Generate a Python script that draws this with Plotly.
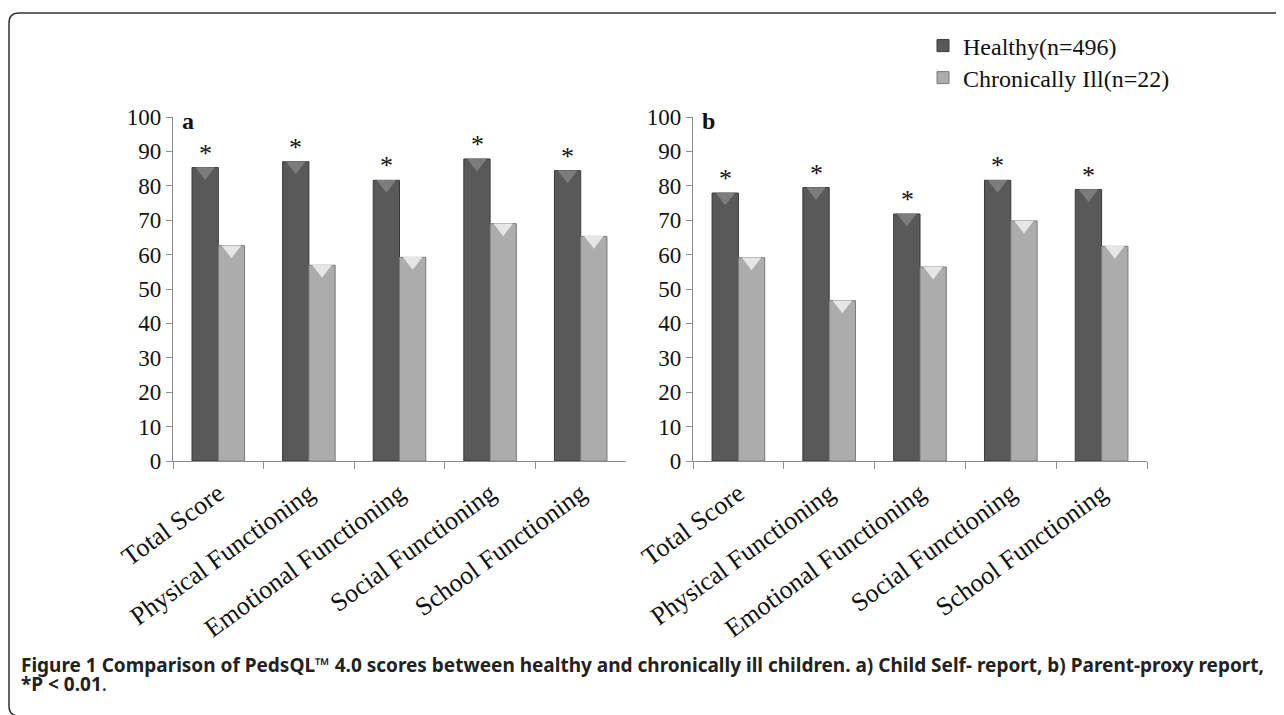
import plotly.graph_objects as go

# ---------------- data ----------------
categories = ["Total Score", "Physical Functioning", "Emotional Functioning",
              "Social Functioning", "School Functioning"]
healthy_a = [85.3, 87.0, 81.6, 87.8, 84.4]
ill_a = [62.6, 56.9, 59.2, 69.0, 65.3]
healthy_b = [77.9, 79.5, 71.8, 81.6, 78.9]
ill_b = [59.1, 46.6, 56.4, 69.8, 62.4]
series_names = ["Healthy(n=496)", "Chronically Ill(n=22)"]
panel_labels = ["a", "b"]
y_tick_vals = list(range(0, 101, 10))
significance_mark = "*"
caption_line1 = ("<b>Figure 1 Comparison of PedsQL™ 4.0 scores between healthy and chronically ill "
                 "children. a) Child Self- report, b) Parent-proxy report,</b>")
caption_line2 = "<b>*P &lt; 0.01</b>."

# ---------------- layout helpers ----------------
OFF = 8  # page body margin
W, H = 1276, 707
def px(x):
    return (x - OFF) / W
def py(y):
    return 1 - (y - OFF) / H

SERIF = "Liberation Serif"
dark = "#595959"
dark_line = "#383838"
dark_bevel = "#7c7c7c"
light = "#acacac"
light_line = "#7a7a7a"
light_bevel = "#e6e6e6"
axis_col = "#8c8c8c"
BARGAP = 0.42

fig = go.Figure()
panels = [(healthy_a, ill_a, "x", "y"), (healthy_b, ill_b, "x2", "y2")]
for i, (h, il, xa, ya) in enumerate(panels):
    fig.add_trace(go.Bar(x=categories, y=h, name=series_names[0], xaxis=xa, yaxis=ya,
                         offsetgroup="h",
                         marker=dict(color=dark, line=dict(color=dark_line, width=1)),
                         showlegend=(i == 0), legend="legend"))
    fig.add_trace(go.Bar(x=categories, y=il, name=series_names[1], xaxis=xa, yaxis=ya,
                         offsetgroup="i",
                         marker=dict(color=light, line=dict(color=light_line, width=1)),
                         showlegend=(i == 0), legend="legend2"))
    # bevel triangles at the top of each bar
    fig.add_trace(go.Scatter(x=categories, y=h, xaxis=xa, yaxis=ya, mode="markers",
                             offsetgroup="h", showlegend=False, hoverinfo="skip",
                             marker=dict(symbol="triangle-down", size=17, color=dark_bevel,
                                         standoff=4, line=dict(width=0))))
    fig.add_trace(go.Scatter(x=categories, y=il, xaxis=xa, yaxis=ya, mode="markers",
                             offsetgroup="i", showlegend=False, hoverinfo="skip",
                             marker=dict(symbol="triangle-down", size=17, color=light_bevel,
                                         standoff=4, line=dict(width=0))))

annotations = []
for (h, il, xa, ya) in panels:
    for c, v in zip(categories, h):
        annotations.append(dict(x=c, y=v, xref=xa, yref=ya, text=significance_mark,
                                showarrow=False, xanchor="center", yanchor="bottom",
                                xshift=-13, yshift=-2,
                                font=dict(family=SERIF, size=26, color="#111")))

# panel letters
for lbl, xpos in zip(panel_labels, [180, 700]):
    annotations.append(dict(x=px(xpos), y=py(121), xref="paper", yref="paper",
                            text=f"<b>{lbl}</b>", showarrow=False,
                            xanchor="left", yanchor="middle",
                            font=dict(family=SERIF, size=24, color="#111")))
# caption
annotations.append(dict(x=px(19), y=py(665), xref="paper", yref="paper", text=caption_line1,
                        showarrow=False, xanchor="left", yanchor="middle",
                        font=dict(family="Noto Sans", size=19, color="#222")))
annotations.append(dict(x=px(19), y=py(684), xref="paper", yref="paper", text=caption_line2,
                        showarrow=False, xanchor="left", yanchor="middle",
                        font=dict(family="Noto Sans", size=19, color="#222")))

xaxis_common = dict(type="category", showline=True, linecolor=axis_col, linewidth=1.3,
                    ticks="outside", tickson="boundaries", ticklen=7, tickcolor=axis_col,
                    tickangle=-36, showgrid=False, zeroline=False, automargin=False,
                    ticklabelstandoff=6,
                    tickfont=dict(family=SERIF, size=26, color="#111"))
yaxis_common = dict(range=[0, 100], tickvals=y_tick_vals, showline=True, linecolor=axis_col,
                    linewidth=1.3, ticks="outside", ticklen=6, tickcolor=axis_col,
                    showgrid=False, zeroline=False, automargin=False,
                    tickfont=dict(family=SERIF, size=23, color="#111"))

# outer frame (open on right/bottom edges of page)
r = 10
x0, y0, x1, y1 = 9, 13, 1300, 716
frame_path = (f"M {px(x1)},{py(y0)} L {px(x0 + r)},{py(y0)} "
              f"Q {px(x0)},{py(y0)} {px(x0)},{py(y0 + r)} "
              f"L {px(x0)},{py(y1 - r)} Q {px(x0)},{py(y1)} {px(x0 + r)},{py(y1)}")

legend_common = dict(xanchor="left", yanchor="middle", bgcolor="rgba(0,0,0,0)",
                     font=dict(family=SERIF, size=24, color="#111"), itemwidth=30)

fig.update_layout(
    template="none",
    width=W, height=H, margin=dict(l=0, r=0, t=0, b=0, autoexpand=False),
    paper_bgcolor="white", plot_bgcolor="white",
    barmode="group", bargap=BARGAP, bargroupgap=0.0,
    scattermode="group", scattergap=BARGAP,
    xaxis=dict(domain=[px(173), px(626)], anchor="y", **xaxis_common),
    yaxis=dict(domain=[py(461), py(117)], anchor="x", **yaxis_common),
    xaxis2=dict(domain=[px(693), px(1147)], anchor="y2", **xaxis_common),
    yaxis2=dict(domain=[py(461), py(117)], anchor="x2", **yaxis_common),
    legend=dict(x=px(923), y=py(46), **legend_common),
    legend2=dict(x=px(923), y=py(78), **legend_common),
    annotations=annotations,
    shapes=[dict(type="path", path=frame_path, xref="paper", yref="paper",
                 line=dict(color="#333", width=1.5))],
)

fig.write_html("out.html")
